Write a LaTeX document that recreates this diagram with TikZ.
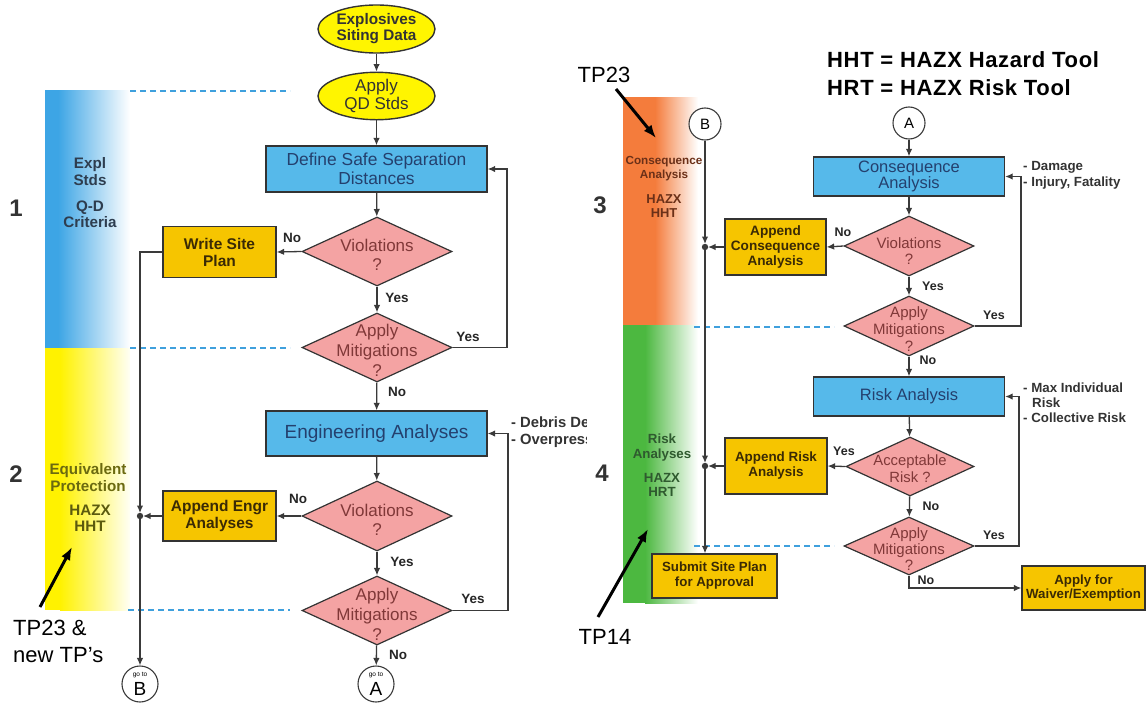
\documentclass[tikz,border=0pt]{standalone}
\usepackage{fontspec}
\setmainfont{Liberation Sans}
\usetikzlibrary{shapes.geometric,arrows.meta,calc}
\definecolor{boxblue}{HTML}{56B9EA}
\definecolor{bluetext}{HTML}{24406E}
\definecolor{boxgold}{HTML}{F6C500}
\definecolor{goldtext}{HTML}{3A2A05}
\definecolor{diapink}{HTML}{F4A3A3}
\definecolor{diatextc}{HTML}{803838}
\definecolor{ellyellow}{HTML}{FFF500}
\definecolor{linec}{HTML}{333333}
\definecolor{connc}{HTML}{3A3A3A}
\definecolor{dashc}{HTML}{3FA0DD}
\definecolor{bandblue}{HTML}{3DA5E5}
\definecolor{bandyellow}{HTML}{FFF200}
\definecolor{bandorange}{HTML}{F47C3C}
\definecolor{bandgreen}{HTML}{4CB840}
\definecolor{sideblue}{HTML}{2E3D4F}
\definecolor{sideolive}{HTML}{6B6A10}
\definecolor{sidebrown}{HTML}{6B3018}
\definecolor{sidegreen}{HTML}{2F5A2F}
\newcommand{\fsz}[2]{\fontsize{#1}{#2}\selectfont}
\begin{document}
\begin{tikzpicture}[x=1pt,y=-1pt,
  bluebox/.style={draw=linec, line width=1.3pt, fill=boxblue, text=bluetext, inner sep=0pt, align=center},
  goldbox/.style={draw=linec, line width=1.3pt, fill=boxgold, text=goldtext, inner sep=0pt, align=center},
  dia/.style={diamond, draw=linec, line width=1.2pt, fill=diapink, inner sep=0pt},
  dtxt/.style={text=diatextc, align=center, inner sep=0pt},
  ell/.style={ellipse, draw=linec, line width=1.4pt, fill=ellyellow, inner sep=0pt, align=center, text=linec},
  conn/.style={draw=connc, line width=1.3pt},
  arr/.style={conn, -{Latex[length=7.5pt,width=6.5pt]}},
  yn/.style={font=\bfseries\fsz{13.5}{14}, text=black!85, inner sep=0pt},
  dashl/.style={draw=dashc, line width=1.5pt, dash pattern=on 6pt off 4pt},
  circ/.style={circle, draw=connc, line width=1.1pt, fill=white, inner sep=0pt},
  tparr/.style={line width=3pt, -{Latex[length=13pt,width=10pt]}},
  num/.style={font=\bfseries\fsz{24}{24}, text=black!80, inner sep=0pt},
  note/.style={font=\bfseries\fsz{13.3}{16}, text=black!80, align=left, inner sep=0pt, anchor=west}
]
\useasboundingbox (0,0) rectangle (1146,704);

% side bands
\fill[bandblue] (45,90) rectangle (58.5,348);
\shade[left color=bandblue, right color=white] (58,90) rectangle (130,348);
\fill[bandyellow] (45,348) rectangle (60.5,610);
\shade[left color=bandyellow, right color=yellow!4] (60,348) rectangle (130,610);
\fill[bandorange] (623,97) rectangle (655.5,325);
\shade[left color=bandorange, right color=white] (655,97) rectangle (698,325);
\fill[bandgreen] (623,325) rectangle (645.5,603);
\shade[left color=bandgreen, right color=white] (645,325) rectangle (698,603);

% dashed separators
\draw[dashl] (130,91) -- (290,91);
\draw[dashl] (130,348) -- (290,348);
\draw[dashl] (128,610) -- (290,610);
\draw[dashl] (694,327) -- (834,327);
\draw[dashl] (694,546) -- (834,546);

% ===== left flow =====
\node[ell, minimum width=117pt, minimum height=48pt, font=\bfseries\fsz{15.3}{16}] (e1) at (376.5,29) {Explosives\\Siting Data};
\node[ell, minimum width=117pt, minimum height=46pt, font=\fsz{17}{18}] (e2) at (376.5,96) {Apply\\QD Stds};
\node[bluebox, minimum width=221pt, minimum height=46pt, font=\fsz{17.4}{19}] (dss) at (376.5,169) {Define Safe Separation\\Distances};
\node[dia, minimum width=150pt, minimum height=69pt] (v1) at (377,251.5) {};
\node[dtxt, font=\fsz{17}{19}] (v1t) at (377,255) {Violations\\?};
\node[goldbox, minimum width=113pt, minimum height=51pt, font=\bfseries\fsz{15.5}{17}] (wsp) at (219.5,252) {Write Site\\Plan};
\node[dia, minimum width=150pt, minimum height=69pt] (am1) at (377,347.5) {};
\node[dtxt, font=\fsz{17}{20}] (am1t) at (377,350) {Apply\\Mitigations\\?};
\node[bluebox, minimum width=221pt, minimum height=45pt, font=\fsz{19}{20}] (eng) at (376.5,433.5) {Engineering Analyses};
\node[dia, minimum width=150pt, minimum height=70pt] (v2) at (377,516) {};
\node[dtxt, font=\fsz{17}{19}] (v2t) at (377,520) {Violations\\?};
\node[goldbox, minimum width=113pt, minimum height=50pt, font=\bfseries\fsz{15.5}{17}] (aea) at (219.5,516) {Append Engr\\Analyses};
\node[dia, minimum width=150pt, minimum height=69pt] (am2) at (377,610.5) {};
\node[dtxt, font=\fsz{17}{20}] (am2t) at (377,614) {Apply\\Mitigations\\?};
\node[circ, minimum size=36pt] (gA) at (376,684) {};
\node[font=\fsz{6.5}{7}, inner sep=0pt] (gAt) at (376,675) {go to};
\node[font=\fsz{19}{19}, inner sep=0pt] (gAl) at (376,688.5) {A};
\node[circ, minimum size=36pt] (gB) at (140,684) {};
\node[font=\fsz{6.5}{7}, inner sep=0pt] (gBt) at (140,675) {go to};
\node[font=\fsz{19}{19}, inner sep=0pt] (gBl) at (140,688.5) {B};

\coordinate (l1) at (507,169);
\coordinate (l2) at (508,433.5);
\coordinate (j1) at (140,516);

\draw[arr] (e1) -- (e2);
\draw[arr] (e2) -- (dss);
\draw[arr] (dss) -- (v1);
\draw[arr] (v1.west) -- (wsp.east);
\draw[arr] (v1) -- (am1);
\draw[arr] (am1.east) -| (l1) -- (dss.east);
\draw[arr] (am1) -- (eng);
\draw[arr] (eng) -- (v2);
\draw[arr] (v2.west) -- (aea.east);
\draw[arr] (v2) -- (am2);
\draw[arr] (am2.east) -| (l2) -- (eng.east);
\draw[arr] (am2) -- (gA);
\draw[arr] (wsp.west) -| ($(j1)+(0,-3)$);
\draw[arr] (aea.west) -- ($(j1)+(3,0)$);
\fill[connc] (j1) circle (3.2pt);
\draw[arr] (j1) -- (gB);

\node[yn] (n1) at (292,238) {No};
\node[yn] (y1) at (397,298) {Yes};
\node[yn] (y2) at (468,337) {Yes};
\node[yn] (n2) at (397,392) {No};
\node[yn] (n3) at (298,499) {No};
\node[yn] (y3) at (402,562) {Yes};
\node[yn] (y4) at (473,599) {Yes};
\node[yn] (n4) at (398,655) {No};

\begin{scope}
\clip (505,412) rectangle (586,452);
\node[note, font=\bfseries\fsz{14.8}{17}] (deb) at (511,432.5) {- Debris Density\\- Overpressure};
\end{scope}

% left side labels
\node[num] (k1) at (16,208) {1};
\node[num] (k2) at (16,474) {2};
\node[font=\bfseries\fsz{15.2}{17}, text=sideblue, align=center, inner sep=0pt] (s1a) at (90,171.5) {Expl\\Stds};
\node[font=\bfseries\fsz{15.2}{16}, text=sideblue, align=center, inner sep=0pt] (s1b) at (90,214) {Q-D\\Criteria};
\node[font=\bfseries\fsz{15.2}{17}, text=sideolive, align=center, inner sep=0pt] (s2a) at (88,477.5) {Equivalent\\Protection};
\node[font=\bfseries\fsz{15.2}{16}, text=sideolive!85!black, align=center, inner sep=0pt] (s2b) at (90,518) {HAZX\\HHT};
\node[font=\fsz{22}{27}, align=left, anchor=west, inner sep=0pt] (tp1) at (13,641.5) {TP23 \&\\new TP’s};
\coordinate (tp1s) at (40,607);
\coordinate (tp1e) at (72,547);
\draw[tparr] (tp1s) -- (tp1e);

% ===== right flow =====
\node[font=\bfseries\fsz{22}{28}\addfontfeatures{LetterSpace=3}, align=left, anchor=west, inner sep=0pt] (leg) at (827,74) {HHT = HAZX Hazard Tool\\HRT = HAZX Risk Tool};
\node[font=\fsz{22}{22}, inner sep=0pt] (tp2) at (604,75) {TP23};
\coordinate (tp2s) at (616,89);
\coordinate (tp2e) at (656,138);
\draw[tparr] (tp2s) -- (tp2e);
\node[font=\fsz{22}{22}, inner sep=0pt] (tp3) at (605,637) {TP14};
\coordinate (tp3s) at (598,617);
\coordinate (tp3e) at (648,529);
\draw[tparr] (tp3s) -- (tp3e);
\node[num] (k3) at (600,205) {3};
\node[num] (k4) at (602,473) {4};
\node[font=\bfseries\fsz{11.7}{14}, text=sidebrown, align=center, inner sep=0pt] (s3a) at (664,169) {Consequence\\Analysis};
\node[font=\bfseries\fsz{12.9}{14}, text=sidebrown, align=center, inner sep=0pt] (s3b) at (664,206) {HAZX\\HHT};
\node[font=\bfseries\fsz{13.3}{15}, text=sidegreen, align=center, inner sep=0pt] (s4a) at (662,447.5) {Risk\\Analyses};
\node[font=\bfseries\fsz{13.3}{14}, text=sidegreen, align=center, inner sep=0pt] (s4b) at (662,485) {HAZX\\HRT};

\node[circ, minimum size=32pt, font=\fsz{15}{15}] (cA) at (909,123) {A};
\node[circ, minimum size=32pt, font=\fsz{15}{15}] (cB) at (705,124) {B};
\node[bluebox, minimum width=191pt, minimum height=39pt, font=\fsz{16.5}{14}] (ca) at (909,176.5) {Consequence\\Analysis};
\node[dia, minimum width=130pt, minimum height=60pt] (v3) at (909,246) {};
\node[dtxt, font=\fsz{15}{16}] (v3t) at (909,251) {Violations\\?};
\node[goldbox, minimum width=101pt, minimum height=56pt, font=\bfseries\fsz{13.6}{15}] (acs) at (775.5,247) {Append\\Consequence\\Analysis};
\node[dia, minimum width=130pt, minimum height=60pt] (am3) at (909,326) {};
\node[dtxt, font=\fsz{15}{17}] (am3t) at (909,329.5) {Apply\\Mitigations\\?};
\node[bluebox, minimum width=191pt, minimum height=39pt, font=\fsz{16.5}{17}] (ra) at (909,396.5) {Risk Analysis};
\node[dia, minimum width=128pt, minimum height=59pt] (acc) at (910,466.5) {};
\node[dtxt, font=\fsz{14.8}{17}] (acct) at (910,468.5) {Acceptable\\Risk ?};
\node[goldbox, minimum width=102pt, minimum height=56pt, font=\bfseries\fsz{13.4}{15}] (ars) at (776,466) {Append Risk\\Analysis};
\node[dia, minimum width=130pt, minimum height=58pt] (am4) at (909,546) {};
\node[dtxt, font=\fsz{15}{16}] (am4t) at (909,549.5) {Apply\\Mitigations\\?};
\node[goldbox, minimum width=125pt, minimum height=44pt, font=\bfseries\fsz{13.3}{15}] (sub) at (714.5,576) {Submit Site Plan\\for Approval};
\node[goldbox, minimum width=123pt, minimum height=44pt, font=\bfseries\fsz{13.3}{14}] (wv) at (1083.5,588) {Apply for\\Waiver/Exemption};

\coordinate (l3) at (1021,176.5);
\coordinate (l4) at (1019,396.5);
\coordinate (j3) at (705,247);
\coordinate (j4) at (705,466);

\draw[arr] (cA) -- (ca);
\draw[arr] (ca) -- (v3);
\draw[arr] (v3.west) -- (acs.east);
\draw[arr] (v3) -- (am3);
\draw[arr] (am3.east) -| (l3) -- (ca.east);
\draw[arr] (am3) -- (ra);
\draw[arr] (ra) -- (acc);
\draw[arr] (acc.west) -- (ars.east);
\draw[arr] (acc) -- (am4);
\draw[arr] (am4.east) -| (l4) -- (ra.east);
\draw[arr] (am4.south) |- (wv.west);
\draw[arr] (cB) -- ($(j3)+(0,-3)$);
\draw[arr] (acs.west) -- ($(j3)+(3,0)$);
\fill[connc] (j3) circle (3.2pt);
\draw[arr] (j3) -- ($(j4)+(0,-3)$);
\draw[arr] (ars.west) -- ($(j4)+(3,0)$);
\fill[connc] (j4) circle (3.2pt);
\draw[arr] (j4) -- (j4 |- sub.north);

\node[yn, font=\bfseries\fsz{12.5}{13}] (n5) at (843,232) {No};
\node[yn, font=\bfseries\fsz{12.5}{13}] (y5) at (933,286) {Yes};
\node[yn, font=\bfseries\fsz{12.5}{13}] (y6) at (994,315) {Yes};
\node[yn, font=\bfseries\fsz{12.5}{13}] (n6) at (928,360) {No};
\node[yn, font=\bfseries\fsz{12.5}{13}] (y7) at (844,451) {Yes};
\node[yn, font=\bfseries\fsz{12.5}{13}] (n7) at (931,506) {No};
\node[yn, font=\bfseries\fsz{12.5}{13}] (y8) at (994,535) {Yes};
\node[yn, font=\bfseries\fsz{12.5}{13}] (n8) at (926,580) {No};

\node[note] (dmg) at (1023,175) {- Damage\\- Injury, Fatality};
\node[note, font=\bfseries\fsz{13.3}{15}] (mir) at (1023,403) {- Max Individual\\\hspace*{9pt}Risk\\- Collective Risk};
\end{tikzpicture}
\end{document}
